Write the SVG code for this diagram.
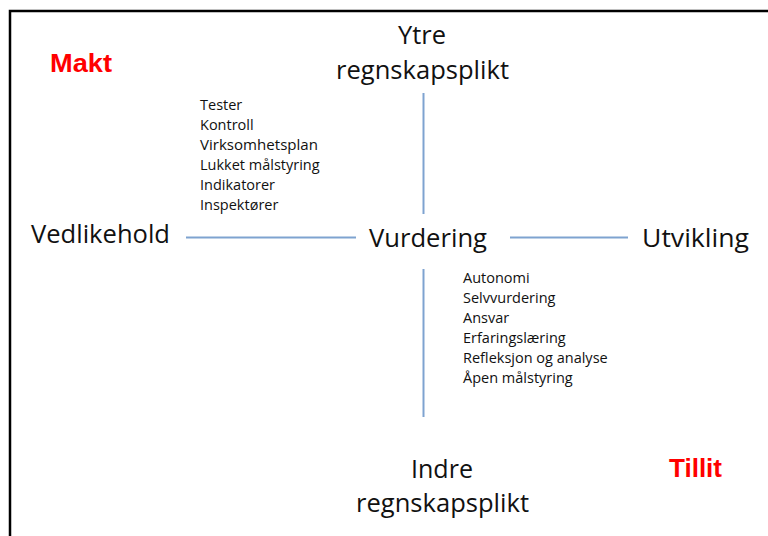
<svg xmlns="http://www.w3.org/2000/svg" width="768" height="536" viewBox="0 0 768 536">
<style>
.t{font-family:"Open Sans","Liberation Sans",sans-serif;fill:#111}
.big{font-size:25px}
.sm{font-size:14.5px}
.red{font-family:"Liberation Sans",Arial,sans-serif;font-weight:bold;fill:#ff0000;font-size:26px}
.ln{stroke:#7ea3d0;stroke-width:2;fill:none}
</style>
<rect width="768" height="536" fill="#fff"/>
<path d="M10,536 V11 H768" stroke="#000" stroke-width="2.5" fill="none"/>
<g id="connectors">
<line class="ln" x1="423.5" y1="93" x2="423.5" y2="214"/>
<line class="ln" x1="423.5" y1="269" x2="423.5" y2="417"/>
<line class="ln" x1="186" y1="237.5" x2="356" y2="237.5"/>
<line class="ln" x1="510" y1="237.5" x2="628" y2="237.5"/>
</g>
<g id="makt"><text class="red" x="50" y="72" textLength="62" lengthAdjust="spacingAndGlyphs">Makt</text></g>
<g id="tillit"><text class="red" x="669" y="477" textLength="53" lengthAdjust="spacingAndGlyphs">Tillit</text></g>
<g id="ytre"><text class="t big" x="398" y="44" textLength="48" lengthAdjust="spacingAndGlyphs">Ytre</text><text class="t big" x="336" y="79" textLength="173" lengthAdjust="spacingAndGlyphs">regnskapsplikt</text></g>
<g id="indre"><text class="t big" x="411" y="478" textLength="62" lengthAdjust="spacingAndGlyphs">Indre</text><text class="t big" x="356" y="512" textLength="173" lengthAdjust="spacingAndGlyphs">regnskapsplikt</text></g>
<g id="vedlikehold"><text class="t big" x="31" y="243" textLength="139" lengthAdjust="spacingAndGlyphs">Vedlikehold</text></g>
<g id="vurdering"><text class="t big" x="369" y="247" textLength="118" lengthAdjust="spacingAndGlyphs">Vurdering</text></g>
<g id="utvikling"><text class="t big" x="642" y="247" textLength="107" lengthAdjust="spacingAndGlyphs">Utvikling</text></g>
<g id="list-left" class="t sm">
<text x="200" y="110">Tester</text>
<text x="200" y="130">Kontroll</text>
<text x="200" y="150" textLength="118" lengthAdjust="spacingAndGlyphs">Virksomhetsplan</text>
<text x="200" y="170">Lukket målstyring</text>
<text x="200" y="190">Indikatorer</text>
<text x="200" y="210">Inspektører</text>
</g>
<g id="list-right" class="t sm">
<text x="463" y="283">Autonomi</text>
<text x="463" y="303">Selvvurdering</text>
<text x="463" y="323">Ansvar</text>
<text x="463" y="343">Erfaringslæring</text>
<text x="463" y="363">Refleksjon og analyse</text>
<text x="463" y="383">Åpen målstyring</text>
</g>
</svg>
